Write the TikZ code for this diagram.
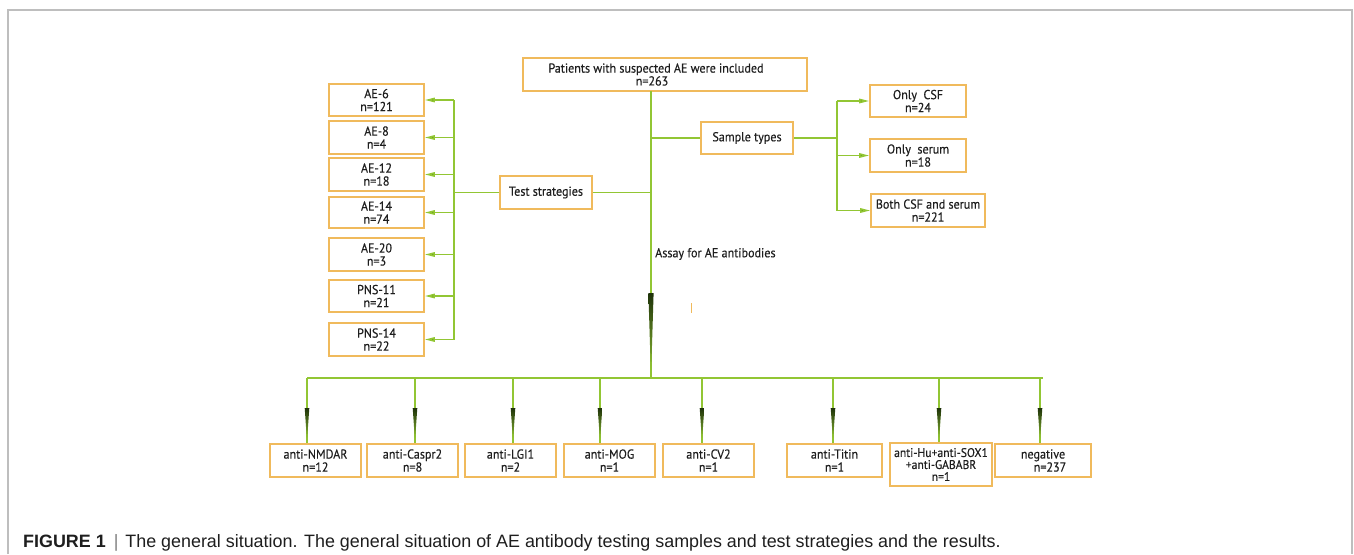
\documentclass[tikz,border=0pt]{standalone}
\usepackage{fontspec}
\setmainfont[FakeStretch=0.93,FakeBold=0.3]{PT Sans}
\newfontfamily\capfont{Liberation Sans}
\usetikzlibrary{arrows.meta}
\definecolor{boxorange}{RGB}{240,186,92}
\definecolor{linegreen}{RGB}{146,198,52}
\definecolor{tipgreen}{RGB}{88,140,18}
\definecolor{darkgreen}{RGB}{30,50,10}
\definecolor{framegray}{RGB}{190,190,190}
\definecolor{textgray}{RGB}{30,30,30}
\tikzset{
  box/.style={draw=boxorange, line width=1.6pt, fill=white, inner sep=1pt, align=center,
    text=textgray, font=\fontsize{13}{13}\selectfont},
  link/.style={draw=linegreen, line width=1.5pt},
  side/.style={link, -{Triangle[length=10pt,width=4.5pt,fill=tipgreen]}},
  tipfill/.style={top color=darkgreen, bottom color=linegreen, draw=none}
}
\begin{document}
\begin{tikzpicture}[x=1pt,y=-1pt]
\useasboundingbox (0,0) rectangle (1354,554);
% frame round the figure
\draw[framegray, line width=1.5pt] (8,554) -- (8,10) -- (1352,10) -- (1352,554);

% top and the two branches
\node[box, minimum width=284pt, minimum height=33pt, font=\fontsize{13}{11}\selectfont] (top) at (665,74.5)
  {Patients with suspected AE were included\hspace*{18pt}\\n=263\hspace*{26pt}};
\node[box, minimum width=92pt, minimum height=32pt] (sample) at (747,138) {Sample types};
\node[box, minimum width=92pt, minimum height=33pt] (test) at (546,192.5) {Test strategies};
\node[text=textgray, font=\fontsize{13}{13}\selectfont, anchor=west, inner sep=0pt] (assay) at (655,254) {Assay for AE antibodies};

% sample types
\node[box, minimum width=96pt, minimum height=32pt] (csf) at (918,101) {Only~ CSF\\n=24};
\node[box, minimum width=96pt, minimum height=33pt] (serum) at (918,155.5) {Only~ serum\\n=18};
\node[box, minimum width=114pt, minimum height=33pt] (both) at (928,210.5) {Both CSF and serum\\n=221};

% test strategies
\node[box, minimum width=95pt, minimum height=32pt] (ae6) at (376.5,100) {AE-6\\n=121};
\node[box, minimum width=95pt, minimum height=33pt] (ae8) at (376.5,137.5) {AE-8\\n=4};
\node[box, minimum width=95pt, minimum height=33pt] (ae12) at (376.5,174.5) {AE-12\\n=18};
\node[box, minimum width=95pt, minimum height=31pt] (ae14) at (376.5,212.5) {AE-14\\n=74};
\node[box, minimum width=95pt, minimum height=33pt] (ae20) at (376.5,254.5) {AE-20\\n=3};
\node[box, minimum width=95pt, minimum height=32pt] (pns11) at (376.5,296) {PNS-11\\n=21};
\node[box, minimum width=95pt, minimum height=33pt] (pns14) at (376.5,339.5) {PNS-14\\n=22};

% results
\node[box, minimum width=91pt, minimum height=33pt] (nmdar) at (315.5,460.5) {anti-NMDAR\\n=12};
\node[box, minimum width=91pt, minimum height=33pt] (caspr) at (412.5,460.5) {anti-Caspr2\\n=8};
\node[box, minimum width=91pt, minimum height=33pt] (lgi) at (510.5,460.5) {anti-LGI1\\n=2};
\node[box, minimum width=91pt, minimum height=33pt] (mog) at (609.5,460.5) {anti-MOG\\n=1};
\node[box, minimum width=91pt, minimum height=33pt] (cv) at (708.5,460.5) {anti-CV2\\n=1};
\node[box, minimum width=95pt, minimum height=33pt] (titin) at (834.5,460.5) {anti-Titin\\n=1};
\node[box, minimum width=102pt, minimum height=43pt, inner sep=0pt, font=\fontsize{12.5}{12}\selectfont] (hu) at (941,464.5)
  {anti-Hu+anti-SOX1\\+anti-GABABR\\n=1};
\node[box, minimum width=96pt, minimum height=33pt] (neg) at (1043,460.5) {negative\\\hspace*{14pt}n=237};

% connectors
\coordinate (ttop) at (651,91);
\coordinate (tbot) at (651,378);
\coordinate (lsplit) at (454,192.5);
\coordinate (rsplit) at (837,138);
\draw[link] (ttop) -- (tbot);
\shade[tipfill, shift={(tbot)}] (-2.6,-85) -- (2.6,-85) -- (0,0) -- cycle;
\draw[link] (sample.west) -- (sample.west -| ttop);
\draw[link] (test.east) -- (test.east -| ttop);

\draw[link] (sample.east) -- (rsplit);
\draw[link] (rsplit |- csf.west) -- (rsplit |- both.west);
\foreach \b in {csf,serum,both}
  \draw[side] (rsplit |- \b.west) -- (\b.west);

\draw[link] (test.west) -- (lsplit);
\draw[link] (lsplit |- ae6.east) -- (lsplit |- pns14.east);
\foreach \b in {ae6,ae8,ae12,ae14,ae20,pns11,pns14}
  \draw[side] (lsplit |- \b.east) -- (\b.east);

\coordinate (barl) at (307,378);
\coordinate (barr) at (1043,378);
\draw[link] (barl) -- (barr);
\foreach \x/\b [count=\i] in {307/nmdar,415/caspr,513/lgi,600/mog,702/cv,833/titin,939/hu,1040/neg}{
  \coordinate (d\i) at (\x,378);
  \draw[link, line width=1.2pt] (d\i) -- (d\i |- \b.north);
  \shade[tipfill, shift={(d\i)}] (-2.3,30) -- (2.3,30) -- (0,63) -- cycle;
}
% small stray mark
\draw[boxorange, line width=1pt] (691,303) -- (691,313);

% caption
\node[anchor=base west, inner sep=0pt, text=textgray, font=\capfont\fontsize{17.9}{20}\selectfont] (caption) at (23,547)
  {\textbf{FIGURE 1}\hspace{8pt}{\color{gray}|}\hspace{7pt}The general situation. The general situation of AE antibody testing samples and test strategies and the results.};
\end{tikzpicture}
\end{document}
